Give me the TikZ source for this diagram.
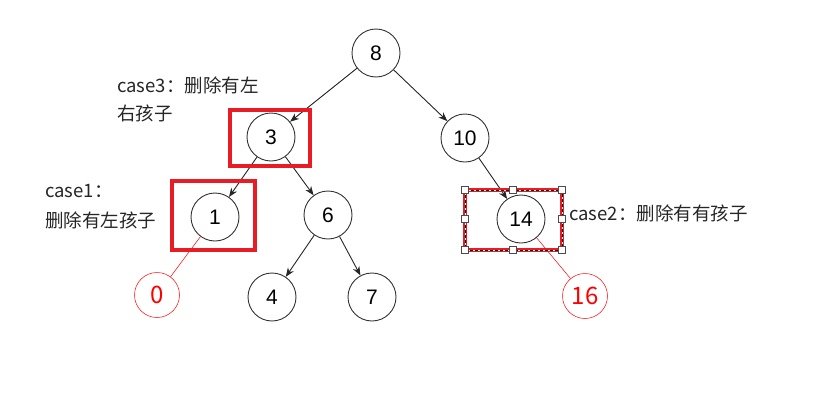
\documentclass[tikz,border=0pt]{standalone}
\usepackage{fontspec}
\setmainfont{Liberation Sans}
\newfontfamily\cjk{Noto Sans CJK SC}
\usetikzlibrary{arrows.meta}
\definecolor{hred}{RGB}{232,28,36}
\tikzset{
  tn/.style={circle,draw=black!80,line width=0.9pt,minimum size=48pt,inner sep=0pt,font=\fontsize{21}{24}\selectfont},
  rn/.style={circle,draw=red,line width=0.5pt,minimum size=45pt,inner sep=0pt,text=red,font=\cjk\fontsize{24}{28}\selectfont},
  edge/.style={draw=black!85,line width=0.9pt,-{Stealth[length=9pt,width=7pt]}},
  redge/.style={draw=red,line width=0.5pt},
  hbox/.style={draw=hred,line width=4pt},
  lbl/.style={font=\cjk\fontsize{18.5}{22}\selectfont,text=black!85,inner sep=0pt,anchor=west},
  hdl/.style={draw=black!70,fill=white,line width=0.6pt,minimum size=7pt,inner sep=0pt,rectangle}
}
\begin{document}
\begin{tikzpicture}[x=1pt,y=-1pt]
\useasboundingbox[fill=white] (0,0) rectangle (823,410);
% nodes
\node[tn] (n8) at (376,53) {8};
\node[tn] (n3) at (271,137) {3};
\node[tn] (n10) at (465,138) {10};
\node[tn] (n1) at (215,217) {1};
\node[tn] (n6) at (328,215) {6};
\node[tn] (n14) at (521,219) {14};
\node[tn] (n4) at (272,297) {4};
\node[tn] (n7) at (372,297) {7};
\node[rn] (n0) at (157,295) {0};
\node[rn] (n16) at (585,296) {16};
% edges
\draw[edge] (n8) -- (n3);
\draw[edge] (n8) -- (n10);
\draw[edge] (n3) -- (n1);
\draw[edge] (n3) -- (n6);
\draw[edge] (n6) -- (n4);
\draw[edge] (n6) -- (n7);
\draw[edge] (n10) -- (n14);
\draw[redge] (n1) -- (n0);
\draw[redge] (n14) -- (n16);
% highlight boxes
\draw[hbox] (230,110) rectangle (310,166);
\draw[hbox] (172,181) rectangle (255,250);
\draw[draw=hred,line width=3.2pt] (465,190) rectangle (562,250);
\draw[draw=white,line width=0.8pt] (465,190) rectangle (562,250);
\draw[draw=black,line width=0.8pt,dash pattern=on 3pt off 2pt] (465,190) rectangle (562,250);
\foreach \i/\p in {a/{465,190},b/{513,190},c/{562,190},d/{465,219},e/{562,219},f/{465,250},g/{513,250},h/{562,250}}
  \node[hdl] (h\i) at (\p) {};
% labels
\node[lbl] (t3a) at (117,85) {case3：删除有左};
\node[lbl] (t3b) at (117,113) {右孩子};
\node[lbl] (t1a) at (45,191) {case1：};
\node[lbl] (t1b) at (45,220) {删除有左孩子};
\node[lbl] (t2) at (569,213) {case2：删除有有孩子};
\end{tikzpicture}
\end{document}
